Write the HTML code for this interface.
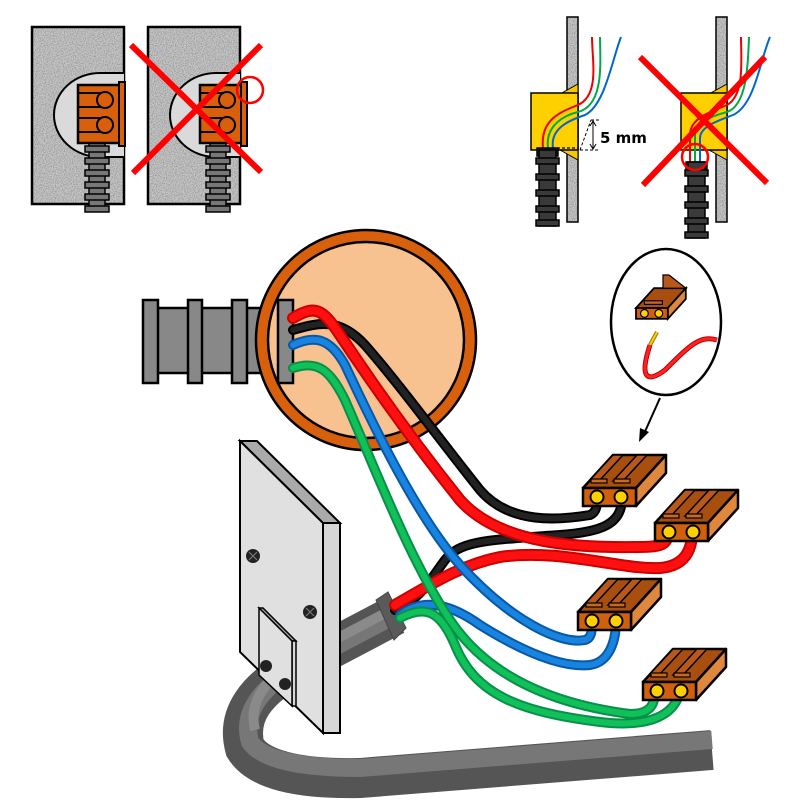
<!DOCTYPE html>
<html><head><meta charset="utf-8"><style>html,body{margin:0;padding:0;background:#fff}svg{display:block}</style></head>
<body>
<svg width="803" height="803" viewBox="0 0 803 803" xmlns="http://www.w3.org/2000/svg">
<defs>
<filter id="spk" x="0" y="0" width="100%" height="100%">
<feTurbulence type="fractalNoise" baseFrequency="0.9" numOctaves="2" seed="3" result="n"/>
<feColorMatrix in="n" type="matrix" values="0 0 0 0 0.3  0 0 0 0 0.3  0 0 0 0 0.3  2.5 0 0 0 -0.9" result="d"/>
<feComposite in="d" in2="SourceGraphic" operator="in" result="dd"/>
<feMerge><feMergeNode in="SourceGraphic"/><feMergeNode in="dd"/></feMerge>
</filter>
<g id="conn">
<polygon points="0,0 30,-33 83,-33 53,0" fill="#a84f10" stroke="#000" stroke-width="2.5" stroke-linejoin="round"/>
<polygon points="53,0 83,-33 83,-15 53,18" fill="#e0873e" stroke="#000" stroke-width="2.5" stroke-linejoin="round"/>
<rect x="0" y="0" width="53" height="18" fill="#d0600e" stroke="#000" stroke-width="2.5"/>
<polygon points="6,-7 30,-33 40,-33 16,-7" fill="#b8581a" stroke="#000" stroke-width="1.5"/>
<polygon points="30,-7 54,-33 64,-33 40,-7" fill="#b8581a" stroke="#000" stroke-width="1.5"/>
<rect x="8" y="-9" width="16" height="4" fill="#c9691e" stroke="#000" stroke-width="1.2"/>
<rect x="31" y="-9" width="16" height="4" fill="#c9691e" stroke="#000" stroke-width="1.2"/>
<circle cx="14" cy="9" r="6.5" fill="#ffd000" stroke="#000" stroke-width="2"/>
<circle cx="38" cy="9" r="6.5" fill="#ffd000" stroke="#000" stroke-width="2"/>
</g>
<g id="corr">
<rect x="0" y="0" width="16" height="70" fill="#777" stroke="#000" stroke-width="1.5"/>
<rect x="-4" y="5" width="24" height="6" fill="#777" stroke="#000" stroke-width="1.5"/>
<rect x="-4" y="17" width="24" height="6" fill="#777" stroke="#000" stroke-width="1.5"/>
<rect x="-4" y="29" width="24" height="6" fill="#777" stroke="#000" stroke-width="1.5"/>
<rect x="-4" y="41" width="24" height="6" fill="#777" stroke="#000" stroke-width="1.5"/>
<rect x="-4" y="53" width="24" height="6" fill="#777" stroke="#000" stroke-width="1.5"/>
<rect x="-4" y="65" width="24" height="6" fill="#777" stroke="#000" stroke-width="1.5"/>
</g>
<g id="corrd">
<rect x="0" y="0" width="17" height="76" fill="#3a3a3a" stroke="#000" stroke-width="1.5"/>
<rect x="-3" y="8" width="23" height="6" fill="#3a3a3a" stroke="#000" stroke-width="1.5"/>
<rect x="-3" y="24" width="23" height="6" fill="#3a3a3a" stroke="#000" stroke-width="1.5"/>
<rect x="-3" y="40" width="23" height="6" fill="#3a3a3a" stroke="#000" stroke-width="1.5"/>
<rect x="-3" y="56" width="23" height="6" fill="#3a3a3a" stroke="#000" stroke-width="1.5"/>
<rect x="-3" y="70" width="23" height="6" fill="#3a3a3a" stroke="#000" stroke-width="1.5"/>
</g>
</defs>

<!-- TOP LEFT panels -->
<g>
<rect x="32" y="27" width="92" height="177" fill="#c8c8c8" filter="url(#spk)"/>
<rect x="32" y="27" width="92" height="177" fill="none" stroke="#000" stroke-width="2.5"/>
<path d="M124,73 H100 A46,42 0 0 0 100,157 H124" fill="#dadada" stroke="#000" stroke-width="2"/>
<use href="#corr" x="89" y="141"/>
<rect x="78" y="85" width="42" height="58" fill="#d8600c" stroke="#000" stroke-width="2.5"/>
<rect x="119" y="82" width="6" height="64" fill="#d8600c" stroke="#000" stroke-width="2"/>
<path d="M78,93 H104 M78,107 H104 M78,118 H104 M78,132 H104" stroke="#000" stroke-width="2"/>
<circle cx="105" cy="100" r="8" fill="#d8600c" stroke="#000" stroke-width="2"/>
<circle cx="105" cy="125" r="8" fill="#d8600c" stroke="#000" stroke-width="2"/>
</g>
<g>
<rect x="148" y="27" width="92" height="177" fill="#c8c8c8" filter="url(#spk)"/>
<rect x="148" y="27" width="92" height="177" fill="none" stroke="#000" stroke-width="2.5"/>
<path d="M240,73 H216 A46,42 0 0 0 216,157 H240" fill="#dadada" stroke="#000" stroke-width="2"/>
<use href="#corr" x="210" y="141"/>
<rect x="200" y="85" width="42" height="58" fill="#d8600c" stroke="#000" stroke-width="2.5"/>
<rect x="241" y="82" width="6" height="64" fill="#d8600c" stroke="#000" stroke-width="2"/>
<path d="M200,93 H226 M200,107 H226 M200,118 H226 M200,132 H226" stroke="#000" stroke-width="2"/>
<circle cx="227" cy="100" r="8" fill="#d8600c" stroke="#000" stroke-width="2"/>
<circle cx="227" cy="125" r="8" fill="#d8600c" stroke="#000" stroke-width="2"/>
<path d="M131,45 L261,172 M261,45 L133,173" stroke="#ff0000" stroke-width="6"/>
<circle cx="250" cy="90" r="13" fill="none" stroke="#ff0000" stroke-width="2.5"/>
</g>

<!-- TOP RIGHT -->
<g>
<rect x="567" y="17" width="11" height="205" fill="#c8c8c8" filter="url(#spk)"/>
<rect x="567" y="17" width="11" height="205" fill="none" stroke="#000" stroke-width="1.5"/>
<polygon points="560,94 578,84 578,94" fill="#f5c800" stroke="#000" stroke-width="1"/>
<polygon points="560,150 578,160 578,150" fill="#f5c800" stroke="#000" stroke-width="1"/>
<rect x="531" y="93" width="47" height="57" fill="#ffd000" stroke="#000" stroke-width="1.5"/>
<path d="M543,148 C540,120 560,112 578,105 C600,95 592,60 592,37" fill="none" stroke="#e00" stroke-width="2"/>
<path d="M548,148 C545,125 565,115 578,112 C605,105 600,60 600,37" fill="none" stroke="#0a4" stroke-width="2"/>
<path d="M553,148 C550,128 570,120 585,115 C605,105 612,60 621,37" fill="none" stroke="#06c" stroke-width="2"/>
<rect x="537" y="148" width="21" height="8" fill="#333" stroke="#000" stroke-width="1.5"/>
<use href="#corrd" x="539" y="150"/>
<path d="M557,148 H578" stroke="#000" stroke-width="1.2" stroke-dasharray="3,2"/>
<path d="M580,150 L591,120 M591,120 H600 M580,150 H600" stroke="#000" stroke-width="1" stroke-dasharray="3,2"/>
<path d="M593,122 V148" stroke="#000" stroke-width="1"/>
<path d="M590,126 L593,121 L596,126 M590,144 L593,149 L596,144" fill="none" stroke="#000" stroke-width="1"/>
<text x="600" y="143" font-family="'DejaVu Sans','Liberation Sans',sans-serif" font-weight="bold" font-size="15">5 mm</text>
</g>
<g>
<rect x="716" y="17" width="11" height="205" fill="#c8c8c8" filter="url(#spk)"/>
<rect x="716" y="17" width="11" height="205" fill="none" stroke="#000" stroke-width="1.5"/>
<polygon points="709,94 727,84 727,94" fill="#f5c800" stroke="#000" stroke-width="1"/>
<polygon points="709,150 727,160 727,150" fill="#f5c800" stroke="#000" stroke-width="1"/>
<rect x="681" y="93" width="46" height="57" fill="#ffd000" stroke="#000" stroke-width="1.5"/>
<path d="M690,165 L690,135 C690,118 710,112 727,105 C745,95 741,60 741,37" fill="none" stroke="#e00" stroke-width="2"/>
<path d="M695,165 L695,135 C695,122 712,116 727,112 C748,105 748,60 749,37" fill="none" stroke="#0a4" stroke-width="2"/>
<path d="M700,165 L700,138 C700,126 720,120 733,115 C755,105 760,60 770,37" fill="none" stroke="#06c" stroke-width="2"/>
<rect x="686" y="162" width="21" height="8" fill="#333" stroke="#000" stroke-width="1.5"/>
<use href="#corrd" x="688" y="162"/>
<path d="M640,57 L767,183 M765,57 L643,185" stroke="#ff0000" stroke-width="6"/>
<circle cx="695" cy="157" r="13" fill="none" stroke="#ff0000" stroke-width="2.5"/>
</g>

<!-- conduit left -->
<rect x="150" y="308" width="140" height="65" fill="#888" stroke="#000" stroke-width="2.5"/>
<rect x="143" y="300" width="15" height="83" fill="#888" stroke="#000" stroke-width="2.5"/>
<rect x="188" y="300" width="14" height="83" fill="#888" stroke="#000" stroke-width="2.5"/>
<rect x="232" y="300" width="15" height="83" fill="#888" stroke="#000" stroke-width="2.5"/>
<!-- box -->
<circle cx="366" cy="340" r="110" fill="#d8600c" stroke="#000" stroke-width="2.5"/>
<circle cx="366" cy="340" r="98" fill="#f8c290" stroke="#000" stroke-width="2.5"/>
<rect x="278" y="300" width="15" height="83" fill="#888" stroke="#000" stroke-width="2.5"/>

<!-- inset -->
<ellipse cx="666" cy="322" rx="55" ry="73" fill="#fff" stroke="#000" stroke-width="2.5"/>
<g transform="translate(636,308) scale(0.6)">
<polygon points="0,0 30,-33 83,-33 53,0" fill="#a84f10" stroke="#000" stroke-width="3"/>
<polygon points="53,0 83,-33 83,-15 53,18" fill="#e0873e" stroke="#000" stroke-width="3"/>
<rect x="0" y="0" width="53" height="18" fill="#d0600e" stroke="#000" stroke-width="3"/>
<polygon points="45,-33 45,-55 55,-55 83,-33" fill="#b8581a" stroke="#000" stroke-width="2"/>
<rect x="14" y="-12" width="30" height="6" fill="#c9691e" stroke="#000" stroke-width="2"/>
<circle cx="14" cy="9" r="6.5" fill="#ffd000" stroke="#000" stroke-width="2"/>
<circle cx="38" cy="9" r="6.5" fill="#ffd000" stroke="#000" stroke-width="2"/>
</g>
<path d="M657,332 L650,345" stroke="#a07000" stroke-width="4"/>
<path d="M657,332 L650,345" stroke="#ffd000" stroke-width="2"/>
<path d="M650,345 C640,375 645,385 665,370 C690,345 700,335 717,340" fill="none" stroke="#b00" stroke-width="5"/>
<path d="M650,345 C640,375 645,385 665,370 C690,345 700,335 717,340" fill="none" stroke="#f22" stroke-width="3"/>
<path d="M660,398 L643,436" stroke="#000" stroke-width="2"/>
<polygon points="639,442 640,428 649,432" fill="#000"/>

<!-- cable -->
<path d="M395,615 L300,665 Q232,700 245,748 Q265,780 360,778 L712,750" fill="none" stroke="#555" stroke-width="40"/>
<path d="M395,615 L300,665 Q238,700 250,742 Q268,768 360,768 L712,740" fill="none" stroke="#777" stroke-width="18"/>
<path d="M395,608 L300,658 Q245,690 255,730" fill="none" stroke="#8a8a8a" stroke-width="10"/>
<polygon points="376,600 388,592 406,628 394,640" fill="#5a5a5a" stroke="#444" stroke-width="1"/>

<!-- plate -->
<polygon points="240,441 257,441 340,523 323,523" fill="#aaa" stroke="#000" stroke-width="2"/>
<polygon points="323,523 340,523 340,733 323,733" fill="#d6d6d6" stroke="#000" stroke-width="2"/>
<polygon points="240,441 323,523 323,733 240,652" fill="#e0e0e0" stroke="#000" stroke-width="2"/>
<circle cx="253" cy="556" r="7" fill="#222"/><path d="M249,552 L257,560 M257,552 L249,560" stroke="#777" stroke-width="1.2"/>
<circle cx="310" cy="612" r="7" fill="#222"/><path d="M306,608 L314,616 M314,608 L306,616" stroke="#777" stroke-width="1.2"/>
<polygon points="259,608 263,608 296,641 292,641" fill="#aaa" stroke="#000" stroke-width="1.5"/>
<polygon points="292,641 296,641 296,706 292,706" fill="#d6d6d6" stroke="#000" stroke-width="1.5"/>
<polygon points="259,608 292,641 292,706 259,675" fill="#e0e0e0" stroke="#000" stroke-width="1.5"/>
<circle cx="266" cy="666" r="6" fill="#222"/>
<circle cx="285" cy="684" r="6" fill="#222"/>

<!-- wires -->
<g fill="none" stroke-linecap="round" stroke-linejoin="round">
<g stroke="#000" stroke-width="10">
<path d="M293,330 C320,322 340,318 365,345 C400,385 440,440 480,490 C510,525 560,520 590,515 C597,512 597,505 597,498"/>
<path d="M395,610 C420,600 430,580 445,560 C460,540 490,540 560,535 C600,532 622,525 622,498"/>
</g>
<g stroke="#222" stroke-width="6">
<path d="M293,330 C320,322 340,318 365,345 C400,385 440,440 480,490 C510,525 560,520 590,515 C597,512 597,505 597,498"/>
<path d="M395,610 C420,600 430,580 445,560 C460,540 490,540 560,535 C600,532 622,525 622,498"/>
</g>
<g stroke="#c00" stroke-width="12">
<path d="M293,318 C315,305 322,308 340,335 C380,395 420,450 460,500 C500,545 580,548 640,547 C660,547 668,545 668,532"/>
<path d="M395,605 C430,585 460,565 500,557 C560,548 620,570 660,568 C685,566 692,550 692,532"/>
</g>
<g stroke="#ff1010" stroke-width="8">
<path d="M293,318 C315,305 322,308 340,335 C380,395 420,450 460,500 C500,545 580,548 640,547 C660,547 668,545 668,532"/>
<path d="M395,605 C430,585 460,565 500,557 C560,548 620,570 660,568 C685,566 692,550 692,532"/>
</g>
<g stroke="#0858a8" stroke-width="10">
<path d="M293,345 C315,335 330,338 345,365 C380,440 420,520 460,565 C510,620 560,645 585,640 C592,638 592,630 592,621"/>
<path d="M400,615 C420,600 445,600 480,625 C520,650 560,668 590,665 C610,662 616,640 616,621"/>
</g>
<g stroke="#1884e0" stroke-width="6">
<path d="M293,345 C315,335 330,338 345,365 C380,440 420,520 460,565 C510,620 560,645 585,640 C592,638 592,630 592,621"/>
<path d="M400,615 C420,600 445,600 480,625 C520,650 560,668 590,665 C610,662 616,640 616,621"/>
</g>
<g stroke="#08904a" stroke-width="10">
<path d="M293,368 C318,360 330,370 345,400 C380,480 410,560 450,620 C490,680 560,705 630,714 C650,714 655,705 655,691"/>
<path d="M400,618 C425,605 440,610 455,645 C475,695 520,712 600,722 C650,728 675,715 680,691"/>
</g>
<g stroke="#10c058" stroke-width="6">
<path d="M293,368 C318,360 330,370 345,400 C380,480 410,560 450,620 C490,680 560,705 630,714 C650,714 655,705 655,691"/>
<path d="M400,618 C425,605 440,610 455,645 C475,695 520,712 600,722 C650,728 675,715 680,691"/>
</g>
</g>

<!-- connectors -->
<use href="#conn" x="583" y="488"/>
<use href="#conn" x="655" y="523"/>
<use href="#conn" x="578" y="612"/>
<use href="#conn" x="643" y="682"/>
</svg>
</body></html>
